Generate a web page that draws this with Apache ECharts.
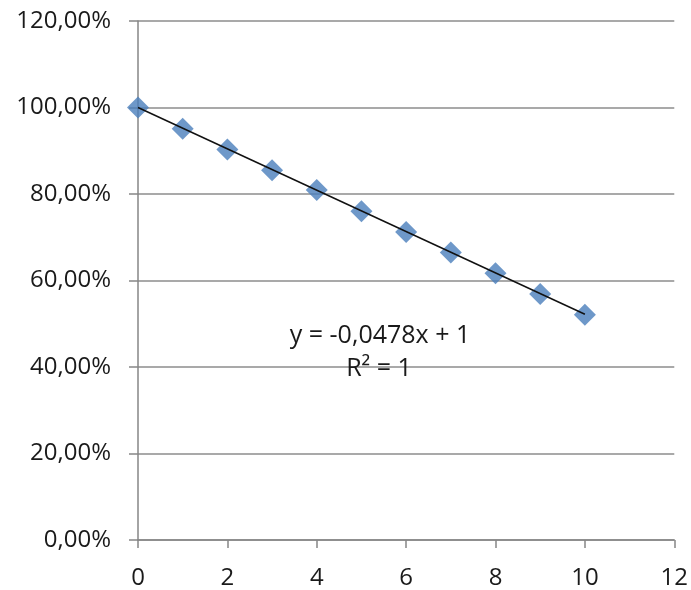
<!DOCTYPE html>
<html><head><meta charset="utf-8">
<script src="https://cdn.jsdelivr.net/npm/echarts@6/dist/echarts.min.js"></script>
<style>html,body{margin:0;padding:0;background:#fff}#c{width:691px;height:590px}</style>
</head><body><div id="c"></div>
<script>
var xValues = [0, 1, 2, 3, 4, 5, 6, 7, 8, 9, 10];
var yValues = [1.0, 0.951, 0.903, 0.855, 0.809, 0.760, 0.712, 0.665, 0.617, 0.569, 0.521];
var trendX = [0, 10];
var trendY = [1.0, 0.522];
var eqText = "y = -0,0478x + 1";
var r2Text = "R² = 1";

var chart = echarts.init(document.getElementById('c'));
var font = "'Open Sans', 'Liberation Sans', sans-serif";
chart.setOption({
  animation: false,
  grid: {left: 138, right: 16, top: 21, bottom: 50, containLabel: false},
  xAxis: {
    type: 'value', min: 0, max: 12, interval: 2,
    axisLine: {show: true, lineStyle: {color: '#868686', width: 1.5}},
    axisTick: {show: true, length: 8, lineStyle: {color: '#868686', width: 1.5}},
    axisLabel: {color: '#1a1a1a', fontSize: 24, fontFamily: font, margin: 26},
    splitLine: {show: false}
  },
  yAxis: {
    type: 'value', min: 0, max: 1.2, interval: 0.2,
    axisLine: {show: true, lineStyle: {color: '#868686', width: 1.5}},
    axisTick: {show: true, length: 9, lineStyle: {color: '#868686', width: 1.5}},
    axisLabel: {color: '#1a1a1a', fontSize: 24, fontFamily: font, margin: 27,
      formatter: function (v) { return (v * 100).toFixed(2).replace('.', ',') + '%'; }},
    splitLine: {show: true, lineStyle: {color: '#8c8c8c', width: 1.5}}
  },
  series: [
    {
      type: 'line', data: trendX.map(function (x, i) { return [x, trendY[i]]; }),
      symbol: 'none', lineStyle: {color: '#111', width: 1.5}, z: 3
    },
    {
      type: 'scatter', data: xValues.map(function (x, i) { return [x, yValues[i]]; }),
      symbol: 'diamond', symbolSize: [22, 22], itemStyle: {color: '#4a7ebb'}, z: 2
    }
  ],
  graphic: [
    {type: 'text', z: 10, style: {x: 380, y: 336, text: eqText, fill: '#1a1a1a', font: '25px ' + font, align: 'center', verticalAlign: 'middle'}},
    {type: 'text', z: 10, style: {x: 379, y: 369, text: r2Text, fill: '#1a1a1a', font: '25px ' + font, align: 'center', verticalAlign: 'middle'}}
  ]
});
</script></body></html>
